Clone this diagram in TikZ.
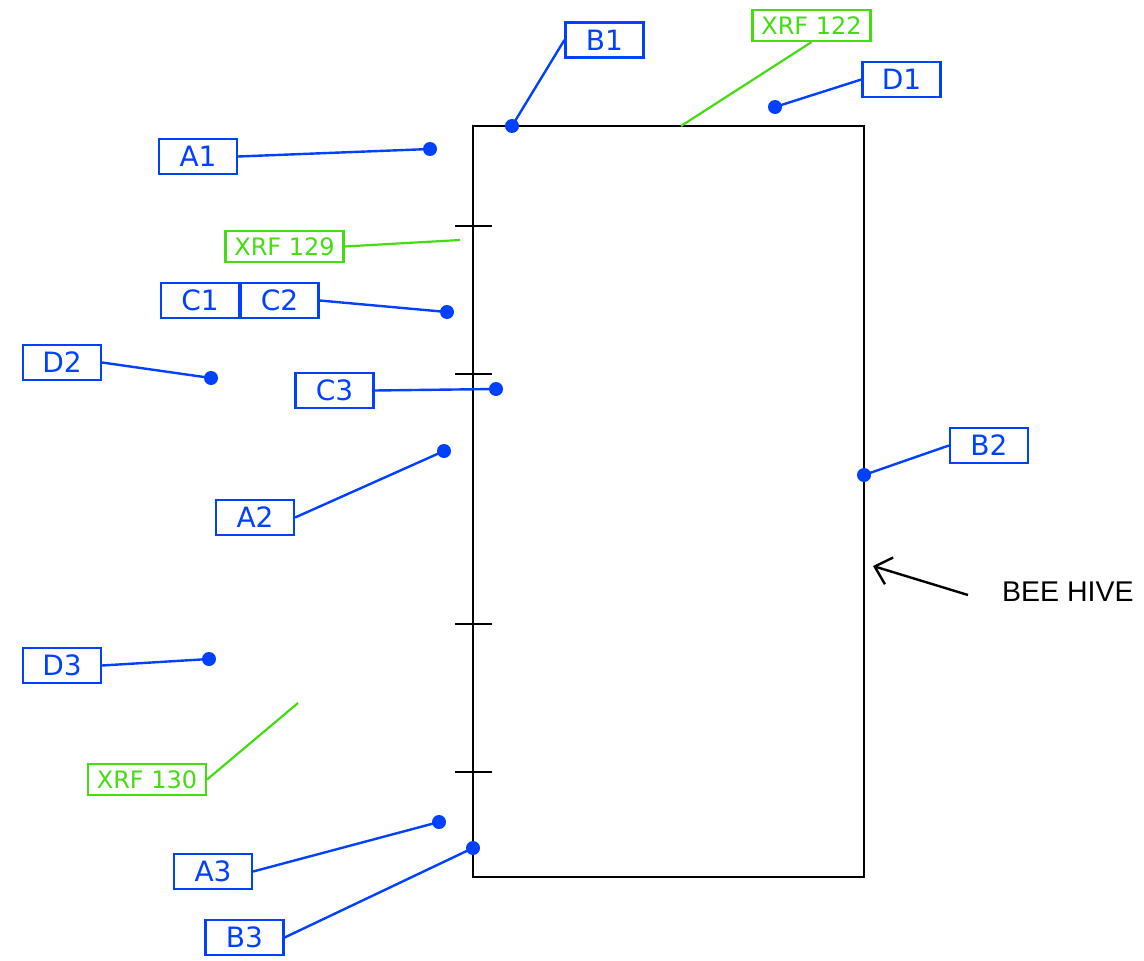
\documentclass[tikz,border=0pt]{standalone}
\usepackage{fontspec}
\setmainfont{DejaVu Sans}
\newfontfamily\arialfont{Liberation Sans}
\usetikzlibrary{arrows.meta}
\definecolor{lblue}{RGB}{0,64,255}
\definecolor{lgreen}{RGB}{68,221,17}
\tikzset{
  lbl/.style={draw=lblue, text=lblue, line width=2.2pt, inner sep=0pt,
    minimum width=78pt, minimum height=35pt,
    font=\fontsize{28}{32}\selectfont},
  xrf/.style={draw=lgreen, text=lgreen, line width=2.2pt, inner sep=0pt,
    minimum width=118pt, minimum height=31pt,
    font=\fontsize{24}{28}\selectfont},
  dot/.style={circle, fill=lblue, inner sep=0pt, minimum size=14pt},
  bline/.style={draw=lblue, line width=2.4pt},
  gline/.style={draw=lgreen, line width=2.2pt},
  kline/.style={draw=black, line width=2.4pt},
}
\begin{document}
\begin{tikzpicture}[x=1pt,y=-1pt]
\useasboundingbox (0,0) rectangle (1144,961);
% hive
\node[kline, draw, minimum width=391pt, minimum height=751pt, inner sep=0pt] (hive) at (668.5,501.5) {};
\foreach \yy in {226,374,624,772} \draw[kline] (455,\yy) -- (492,\yy);
% labels
\node[lbl] (B1) at (604.5,40) {B1};
\node[xrf] (X122) at (811.5,25.5) {XRF 122};
\node[lbl] (D1) at (901.5,79.5) {D1};
\node[lbl] (A1) at (198,156.5) {A1};
\node[xrf] (X129) at (284.5,246.5) {XRF 129};
\node[lbl] (C1) at (200,300.5) {C1};
\node[lbl] (C2) at (279.5,300.5) {C2};
\node[lbl] (D2) at (62,362.5) {D2};
\node[lbl] (C3) at (334.5,390.5) {C3};
\node[lbl] (A2) at (255,517.5) {A2};
\node[lbl] (B2) at (989,445.5) {B2};
\node[lbl] (D3) at (62,665.5) {D3};
\node[xrf] (X130) at (147,779.5) {XRF 130};
\node[lbl] (A3) at (213,871.5) {A3};
\node[lbl] (B3) at (244.5,937.5) {B3};
\node[anchor=base west, inner sep=0pt, font=\arialfont\fontsize{28.5}{32}\selectfont] (bee) at (1002,601) {BEE HIVE};
% dots
\node[dot] (dA1) at (430,149) {};
\node[dot] (dB1) at (512,126) {};
\node[dot] (dD1) at (775,107) {};
\node[dot] (dC2) at (447,312) {};
\node[dot] (dD2) at (211,378) {};
\node[dot] (dC3) at (496,389) {};
\node[dot] (dA2) at (444,451) {};
\node[dot] (dB2) at (864,475) {};
\node[dot] (dD3) at (209,659) {};
\node[dot] (dA3) at (439,822) {};
\node[dot] (dB3) at (473,848) {};
\coordinate (e122) at (681,126);
\coordinate (e129) at (460,240);
\coordinate (e130) at (298,703);
\coordinate (arrS) at (968,595);
\coordinate (arrE) at (873,566);
% connectors
\draw[bline] (A1.east) -- (dA1.center);
\draw[bline] (B1.west) -- (dB1.center);
\draw[gline] (X122.south) -- (e122);
\draw[bline] (D1.west) -- (dD1.center);
\draw[gline] (X129.east) -- (e129);
\draw[bline] (C2.east) -- (dC2.center);
\draw[bline] (D2.east) -- (dD2.center);
\draw[bline] (C3.east) -- (dC3.center);
\draw[bline] (A2.east) -- (dA2.center);
\draw[bline] (B2.west) -- (dB2.center);
\draw[bline] (D3.east) -- (dD3.center);
\draw[gline] (X130.east) -- (e130);
\draw[bline] (A3.east) -- (dA3.center);
\draw[bline] (B3.east) -- (dB3.center);
\draw[kline, -{Straight Barb[length=15pt,width=28pt]}] (arrS) -- (arrE);
\end{tikzpicture}
\end{document}
